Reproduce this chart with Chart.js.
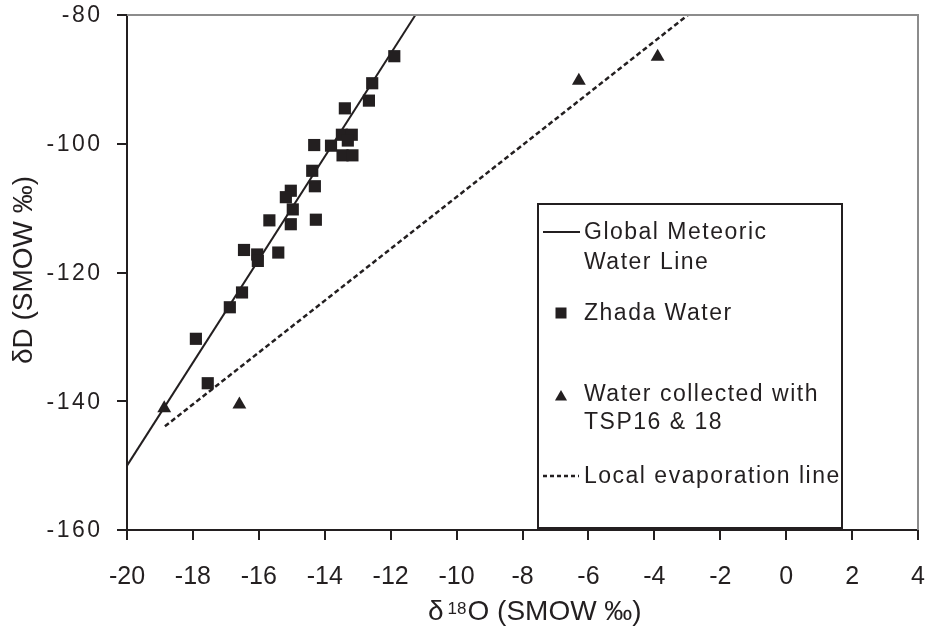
<!DOCTYPE html>
<html>
<head>
<meta charset="utf-8">
<script src="https://cdn.jsdelivr.net/npm/chart.js@4/dist/chart.umd.min.js"></script>
<style>
  html, body { margin: 0; padding: 0; background: #fff; }
  canvas { display: block; }
</style>
</head>
<body>
<canvas id="chart" width="927" height="629"></canvas>
<script>
// δ18O / δD measurements (SMOW ‰)
const zhadaO = [-11.89, -12.56, -12.66, -13.39, -13.48, -13.18, -13.30, -14.32, -13.81,
                -13.46, -13.16, -14.38, -14.30, -15.03, -15.18, -14.97, -15.03, -14.27,
                -15.68, -16.45, -16.05, -16.03, -15.41, -16.51, -16.88, -17.91, -17.55];
const zhadaD = [-86.4, -90.6, -93.3, -94.5, -98.6, -98.6, -99.5, -100.2, -100.3,
                -101.8, -101.8, -104.2, -106.6, -107.3, -108.3, -110.2, -112.5, -111.8,
                -111.9, -116.5, -117.2, -118.2, -116.9, -123.1, -125.4, -130.3, -137.2];

const tspO = [-18.87, -16.59, -6.29, -3.90];
const tspD = [-141.1, -140.5, -90.2, -86.5];

// Global Meteoric Water Line end points
const gmwlO = [-20, -11.25];
const gmwlD = [-150, -80];

// Local evaporation line end points
const levO = [-18.85, -2.98];
const levD = [-143.9, -80];

const xTickValues = [-20, -18, -16, -14, -12, -10, -8, -6, -4, -2, 0, 2, 4];
const yTickValues = [-160, -140, -120, -100, -80];

const seriesLabels = {
  gmwl: ['Global Meteoric', 'Water Line'],
  zhada: ['Zhada Water'],
  tsp: ['Water collected with', 'TSP16 & 18'],
  lev: ['Local evaporation line']
};

const FONT = '"Liberation Sans", Arial, Helvetica, sans-serif';
const INK = '#231f20';

const toPoints = (xs, ys) => xs.map((x, i) => ({ x: x, y: ys[i] }));

function drawSquare(ctx, x, y, s) {
  ctx.fillRect(x - s / 2, y - s / 2, s, s);
}
function drawTriangle(ctx, x, y, r) {
  ctx.beginPath();
  ctx.moveTo(x, y - r);
  ctx.lineTo(x + r * Math.sqrt(3) / 2, y + r / 2);
  ctx.lineTo(x - r * Math.sqrt(3) / 2, y + r / 2);
  ctx.closePath();
  ctx.fill();
}

const decor = {
  id: 'decor',
  afterDraw(chart) {
    const ctx = chart.ctx;
    const a = chart.chartArea;
    const ys = chart.scales.y;
    ctx.save();

    // grey frame on top and right
    ctx.strokeStyle = '#8c8c8c';
    ctx.lineWidth = 2;
    ctx.beginPath();
    ctx.moveTo(a.left, a.top);
    ctx.lineTo(a.right, a.top);
    ctx.lineTo(a.right, a.bottom);
    ctx.stroke();

    // y tick labels (letter-spaced)
    ctx.fillStyle = INK;
    ctx.font = '23px ' + FONT;
    ctx.textAlign = 'right';
    ctx.textBaseline = 'middle';
    ctx.letterSpacing = '2.5px';
    yTickValues.forEach(v => {
      ctx.fillText(String(v), 102.5, ys.getPixelForValue(v) + 1);
    });
    ctx.letterSpacing = '0px';

    // y axis title
    ctx.save();
    ctx.translate(32, 270);
    ctx.rotate(-Math.PI / 2);
    ctx.font = '28px ' + FONT;
    ctx.textAlign = 'center';
    ctx.textBaseline = 'alphabetic';
    ctx.fillText('δD (SMOW ‰)', 0, 0);
    ctx.restore();

    // x axis title with superscript
    ctx.textAlign = 'left';
    ctx.textBaseline = 'alphabetic';
    let tx = 428;
    ctx.font = '28px ' + FONT;
    ctx.fillText('δ', tx, 620);
    tx += ctx.measureText('δ').width + 4;
    ctx.font = '17px ' + FONT;
    ctx.fillText('18', tx, 614);
    tx += ctx.measureText('18').width + 1;
    ctx.font = '28px ' + FONT;
    ctx.fillText('O (SMOW ‰)', tx, 620);

    // legend
    ctx.fillStyle = '#fff';
    ctx.fillRect(538, 204, 304, 324);
    ctx.strokeStyle = INK;
    ctx.lineWidth = 2;
    ctx.strokeRect(538, 204, 304, 324);

    ctx.fillStyle = INK;
    ctx.font = '23px ' + FONT;
    ctx.letterSpacing = '1.5px';
    ctx.textBaseline = 'middle';
    const tx0 = 584;

    ctx.beginPath();
    ctx.lineWidth = 2;
    ctx.moveTo(543, 232); ctx.lineTo(580, 232);
    ctx.stroke();
    ctx.fillText(seriesLabels.gmwl[0], tx0, 233);
    ctx.fillText(seriesLabels.gmwl[1], tx0, 263);

    drawSquare(ctx, 561, 313, 11);
    ctx.fillText(seriesLabels.zhada[0], tx0, 314);

    drawTriangle(ctx, 561, 397, 7);
    ctx.fillText(seriesLabels.tsp[0], tx0, 395);
    ctx.fillText(seriesLabels.tsp[1], tx0, 423);

    ctx.beginPath();
    ctx.lineWidth = 2.5;
    ctx.setLineDash([4, 3]);
    ctx.moveTo(543, 476); ctx.lineTo(579, 476);
    ctx.stroke();
    ctx.setLineDash([]);
    ctx.fillText(seriesLabels.lev[0], tx0, 477);

    ctx.restore();
  }
};

new Chart(document.getElementById('chart'), {
  type: 'scatter',
  data: {
    datasets: [
      {
        label: seriesLabels.zhada.join(' '),
        data: toPoints(zhadaO, zhadaD),
        pointStyle: 'rect',
        pointRadius: 8.6,
        backgroundColor: INK,
        borderColor: INK,
        borderWidth: 0
      },
      {
        label: seriesLabels.tsp.join(' '),
        data: toPoints(tspO, tspD),
        pointStyle: 'triangle',
        pointRadius: 8,
        backgroundColor: INK,
        borderColor: INK,
        borderWidth: 0
      },
      {
        label: seriesLabels.gmwl.join(' '),
        data: toPoints(gmwlO, gmwlD),
        showLine: true,
        pointRadius: 0,
        borderColor: INK,
        borderWidth: 2
      },
      {
        label: seriesLabels.lev.join(' '),
        data: toPoints(levO, levD),
        showLine: true,
        pointRadius: 0,
        borderColor: INK,
        borderWidth: 2.5,
        borderDash: [5, 3]
      }
    ]
  },
  options: {
    responsive: false,
    animation: false,
    clip: false,
    layout: { padding: { top: 15, right: 9, left: 0, bottom: 0 } },
    plugins: {
      legend: { display: false },
      tooltip: { enabled: false }
    },
    scales: {
      x: {
        type: 'linear',
        min: -20,
        max: 4,
        afterBuildTicks: s => { s.ticks = xTickValues.map(v => ({ value: v })); },
        afterFit: s => { s.height = 99; s.paddingLeft = 0; s.paddingRight = 0; },
        ticks: {
          font: { size: 25, family: FONT },
          color: INK,
          padding: 22,
          maxRotation: 0,
          autoSkip: false
        },
        grid: { drawOnChartArea: false, drawTicks: true, tickLength: 10, color: INK, lineWidth: 2 },
        border: { display: true, color: INK, width: 2 }
      },
      y: {
        type: 'linear',
        min: -160,
        max: -80,
        afterBuildTicks: s => { s.ticks = yTickValues.map(v => ({ value: v })); },
        afterFit: s => { s.width = 127; s.paddingTop = 0; s.paddingBottom = 0; },
        ticks: { display: false },
        grid: { drawOnChartArea: false, drawTicks: true, tickLength: 10, color: INK, lineWidth: 2 },
        border: { display: true, color: INK, width: 2 }
      }
    }
  },
  plugins: [decor]
});
</script>
</body>
</html>
